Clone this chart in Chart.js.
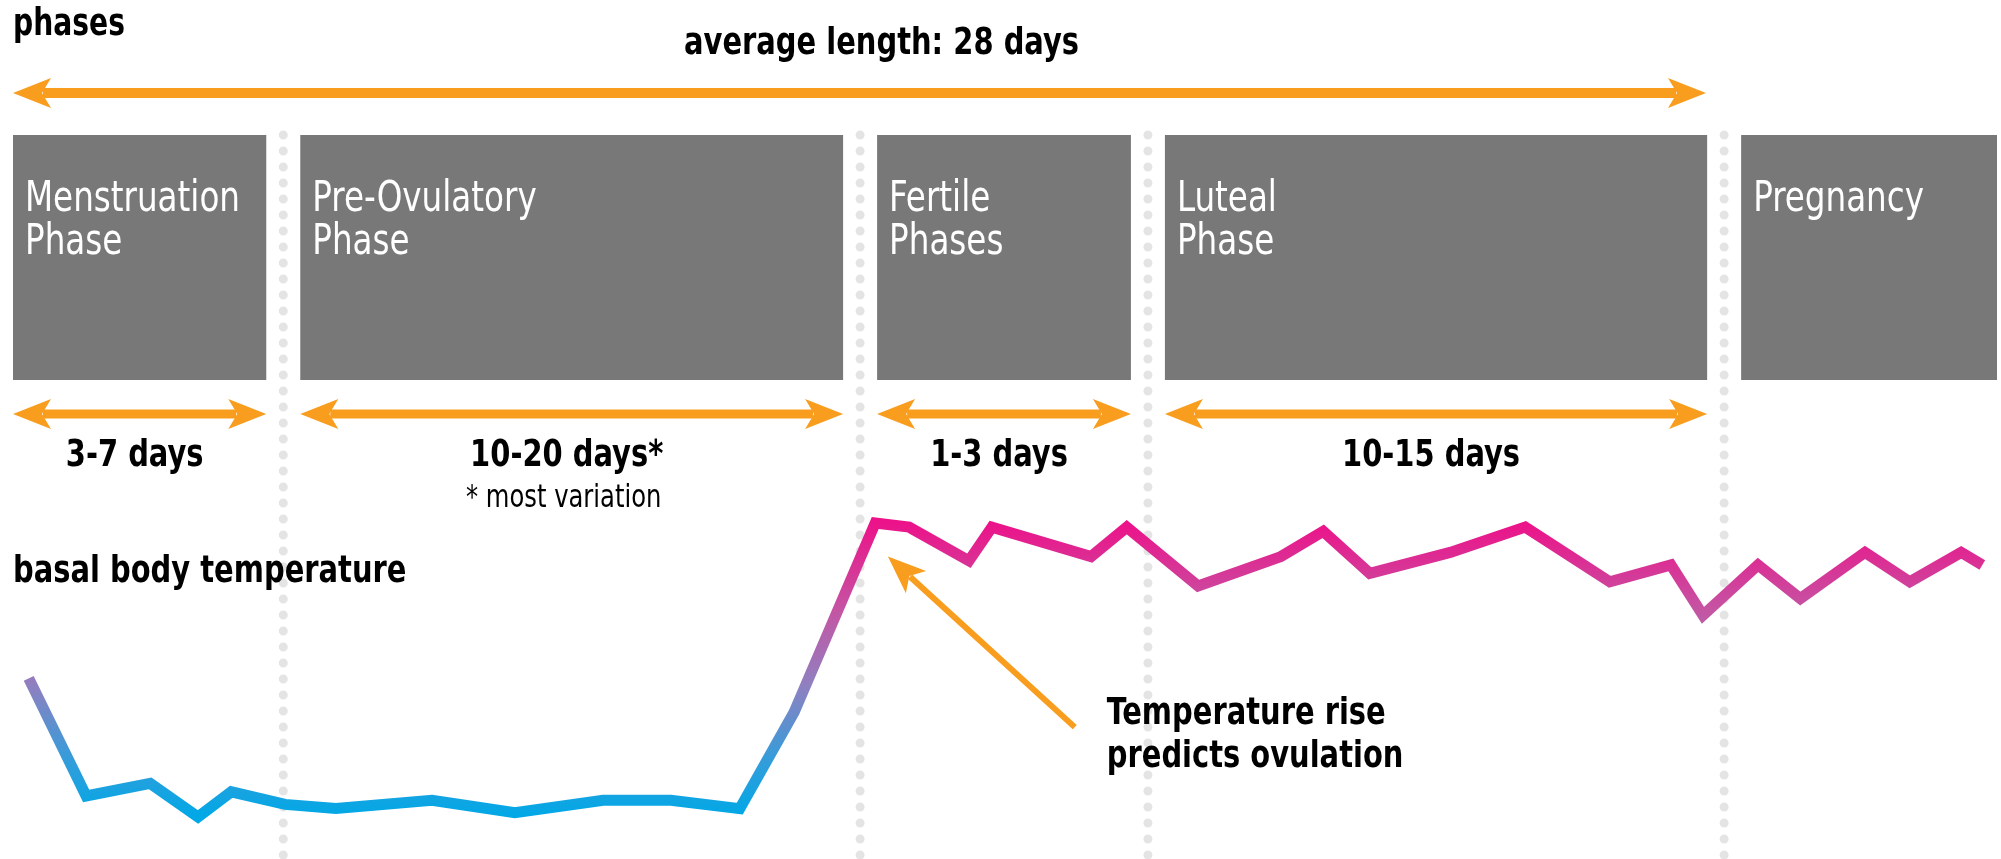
<!DOCTYPE html>
<html><head><meta charset="utf-8">
<script src="https://cdn.jsdelivr.net/npm/chart.js@4"></script>
<style>html,body{margin:0;padding:0;background:#fff;overflow:hidden}#wrap{width:2001px;height:859px;position:relative}</style>
</head><body><div id="wrap"><canvas id="c" width="2001" height="859"></canvas></div>
<script>
// ---- data ----
const cycleDays = [0.26, 1.21, 2.27, 3.06, 3.61, 4.50, 5.34, 6.93, 8.30, 9.76, 10.88, 12.02, 12.92,
  14.26, 14.82, 15.81, 16.19, 17.83, 18.42, 19.60, 20.97, 21.67, 22.44, 23.77, 25.01, 26.41, 27.42, 27.95,
  28.86, 29.56, 30.63, 31.37, 32.22, 32.57];
const temperatures = [36.53, 36.25, 36.28, 36.20, 36.26, 36.23, 36.22, 36.24, 36.21, 36.24, 36.24, 36.22, 36.45,
  36.90, 36.89, 36.81, 36.89, 36.82, 36.89, 36.75, 36.82, 36.88, 36.78, 36.83, 36.89, 36.76, 36.80, 36.68,
  36.80, 36.72, 36.83, 36.76, 36.83, 36.80];
const phaseNames = [["Menstruation", "Phase"], ["Pre-Ovulatory", "Phase"], ["Fertile", "Phases"], ["Luteal", "Phase"], ["Pregnancy"]];
const dividerDays = [4.47, 14.01, 18.77, 28.30];
const durationLabels = ["3-7 days", "10-20 days*", "1-3 days", "10-15 days"];
const cycleLength = 28;
const titleText = "average length: 28 days";
const phasesHeading = "phases";
const tempHeading = "basal body temperature";
const footnoteText = "* most variation";
const annotationLines = ["Temperature rise", "predicts ovulation"];
const annotationTip = { x: 14.47, y: 36.82 };
const annotationTail = { x: 17.56, y: 36.414 };

// ---- styling ----
const FONT = '"Liberation Sans Narrow", "DejaVu Sans Condensed", "Open Sans", sans-serif';
const ORANGE = '#f89d1e';
const BOX = '#787878';
const DOT = '#e4e4e4';
let boldSx = 1, regSx = 1;

function measure(ctx, str, size, weight) {
  ctx.save(); ctx.font = `${weight} ${size}px ${FONT}`; const w = ctx.measureText(str).width; ctx.restore(); return w;
}
function drawText(ctx, str, x, y, size, weight, color, align) {
  const sx = weight === 'bold' ? boldSx : regSx;
  ctx.save();
  ctx.font = `${weight} ${size}px ${FONT}`;
  ctx.fillStyle = color; ctx.textBaseline = 'alphabetic'; ctx.textAlign = 'left';
  const w = ctx.measureText(str).width * sx;
  const x0 = align === 'center' ? x - w / 2 : (align === 'right' ? x - w : x);
  ctx.translate(x0, y); ctx.scale(sx, 1); ctx.fillText(str, 0, 0);
  ctx.restore();
}
function arrowHead(ctx, tx, ty, dx, dy) {
  const L = 38, H = 15, N = 29;
  const px = -dy, py = dx;
  ctx.beginPath();
  ctx.moveTo(tx, ty);
  ctx.lineTo(tx - L * dx + H * px, ty - L * dy + H * py);
  ctx.lineTo(tx - N * dx, ty - N * dy);
  ctx.lineTo(tx - L * dx - H * px, ty - L * dy - H * py);
  ctx.closePath(); ctx.fill();
}
function doubleArrow(ctx, x1, x2, y, lw) {
  ctx.save();
  ctx.fillStyle = ORANGE; ctx.strokeStyle = ORANGE; ctx.lineWidth = lw; ctx.lineCap = 'butt';
  ctx.beginPath(); ctx.moveTo(x1 + 30, y); ctx.lineTo(x2 - 30, y); ctx.stroke();
  arrowHead(ctx, x1, y, -1, 0);
  arrowHead(ctx, x2, y, 1, 0);
  ctx.restore();
}

const infographic = {
  id: 'infographic',
  beforeDatasetsDraw(chart) {
    const ctx = chart.ctx;
    const X = v => chart.scales.x.getPixelForValue(v);
    const W = chart.width;
    boldSx = 395 / measure(ctx, titleText, 38, 'bold');
    regSx = 215 / measure(ctx, "Menstruation", 43, 'normal');
    const G = 17;
    const divPx = dividerDays.map(X);
    const lefts = [X(0)].concat(divPx.map(p => p + G));
    const rights = divPx.map(p => p - G).concat([W - 4]);

    // dotted dividers
    ctx.save();
    ctx.strokeStyle = DOT; ctx.lineWidth = 9; ctx.lineCap = 'round'; ctx.setLineDash([0, 16]);
    divPx.forEach(p => { ctx.beginPath(); ctx.moveTo(p, 135); ctx.lineTo(p, 860); ctx.stroke(); });
    ctx.restore();

    // headings
    drawText(ctx, phasesHeading, X(0), 35, 37, 'bold', '#000', 'left');
    drawText(ctx, titleText, (X(0) + X(cycleLength)) / 2 + 22, 54, 38, 'bold', '#000', 'center');
    doubleArrow(ctx, X(0), X(cycleLength), 93, 10);

    // phase boxes
    phaseNames.forEach((lines, i) => {
      ctx.fillStyle = BOX;
      ctx.fillRect(lefts[i], 135, rights[i] - lefts[i], 245);
      lines.forEach((t, j) => drawText(ctx, t, lefts[i] + 12, 211 + j * 43, 43, 'normal', '#fff', 'left'));
    });

    // durations
    durationLabels.forEach((t, i) => {
      doubleArrow(ctx, lefts[i], rights[i], 414, 9);
      const c = (lefts[i] + rights[i]) / 2 - 5;
      drawText(ctx, t, c, 466, 38, 'bold', '#000', 'center');
      if (i === 1) drawText(ctx, footnoteText, c - 3, 507, 32, 'normal', '#000', 'center');
    });

    drawText(ctx, tempHeading, X(0), 582, 38, 'bold', '#000', 'left');
  },
  afterDatasetsDraw(chart) {
    const ctx = chart.ctx;
    const X = v => chart.scales.x.getPixelForValue(v);
    const Y = v => chart.scales.y.getPixelForValue(v);
    const tx = X(annotationTip.x), ty = Y(annotationTip.y);
    const sx = X(annotationTail.x), sy = Y(annotationTail.y);
    let dx = tx - sx, dy = ty - sy; const len = Math.hypot(dx, dy); dx /= len; dy /= len;
    ctx.save();
    ctx.strokeStyle = ORANGE; ctx.fillStyle = ORANGE; ctx.lineWidth = 6;
    ctx.beginPath(); ctx.moveTo(sx, sy); ctx.lineTo(tx - 30 * dx, ty - 30 * dy); ctx.stroke();
    arrowHead(ctx, tx, ty, dx, dy);
    ctx.restore();
    annotationLines.forEach((t, j) => drawText(ctx, t, sx + 32, sy - 3 + j * 43, 38, 'bold', '#000', 'left'));
  }
};

const ctxEl = document.getElementById('c');
new Chart(ctxEl, {
  type: 'line',
  data: {
    datasets: [{
      data: cycleDays.map((d, i) => ({ x: d, y: temperatures[i] })),
      borderWidth: 11,
      borderJoinStyle: 'miter',
      borderCapStyle: 'butt',
      pointRadius: 0,
      tension: 0,
      fill: false,
      borderColor: (c) => {
        const ch = c.chart;
        if (!ch.chartArea) return '#e8168c';
        const y = ch.scales.y;
        const top = y.getPixelForValue(Math.max(...temperatures));
        const bot = y.getPixelForValue(Math.min(...temperatures));
        const g = ch.ctx.createLinearGradient(0, top, 0, bot);
        g.addColorStop(0, '#ec1289');
        g.addColorStop(0.3, '#c455a3');
        g.addColorStop(0.55, '#9080c0');
        g.addColorStop(0.8, '#369cda');
        g.addColorStop(1, '#00a8e6');
        return g;
      }
    }]
  },
  options: {
    responsive: false,
    animation: false,
    devicePixelRatio: 1,
    layout: { padding: 0 },
    plugins: { legend: { display: false }, tooltip: { enabled: false } },
    scales: {
      x: { type: 'linear', min: -0.215, max: 32.879, display: false },
      y: { type: 'linear', min: 36.1, max: 38.145, display: false }
    }
  },
  plugins: [infographic]
});
</script>
</body></html>
